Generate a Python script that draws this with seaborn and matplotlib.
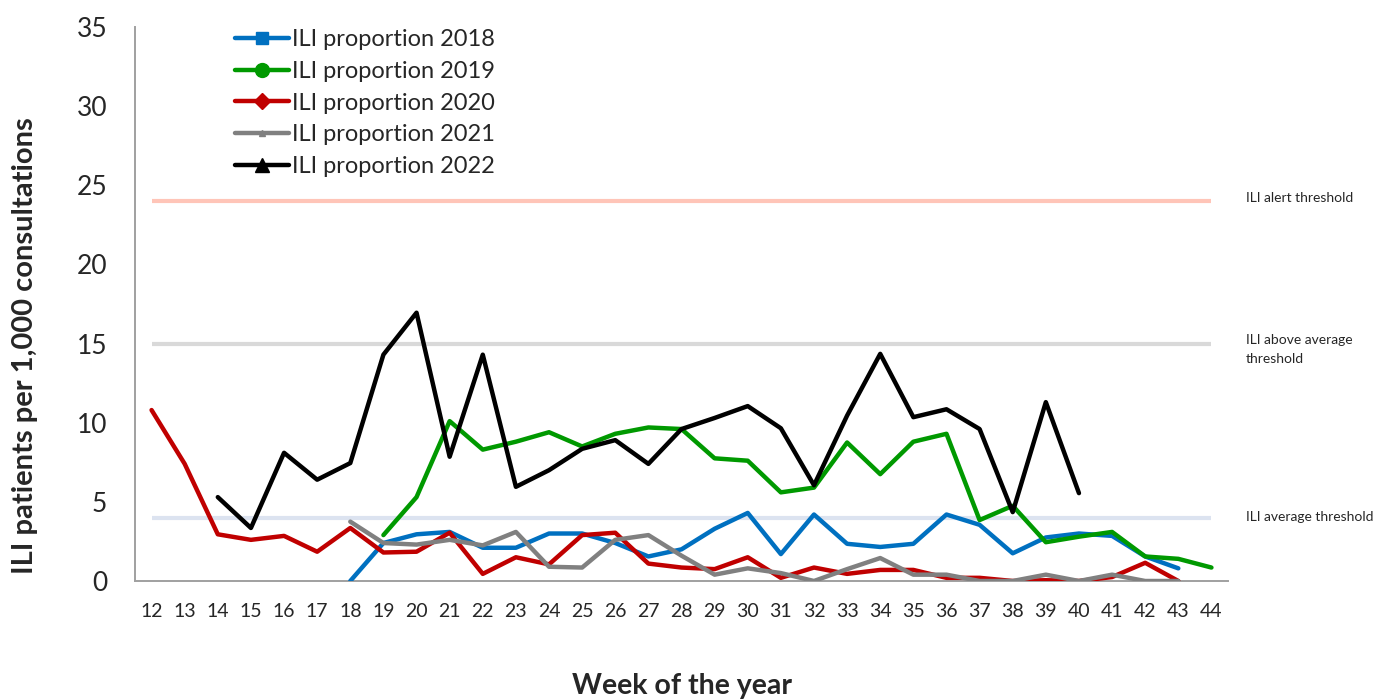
import numpy as np
import pandas as pd
import matplotlib
matplotlib.use('Agg')
import matplotlib.pyplot as plt
from matplotlib.lines import Line2D
import seaborn as sns

# Weeks shown on the x axis
weeks = list(range(12, 45))

# ILI proportion per year (first week of each series given separately)
start_2018 = 18
ili_2018 = [0.0, 2.4, 2.95, 3.1, 2.1, 2.1, 3.0, 3.0, 2.4, 1.55, 2.0, 3.3, 4.3, 1.7,
            4.2, 2.35, 2.15, 2.35, 4.2, 3.55, 1.75, 2.75, 3.0, 2.85, 1.55, 0.8]
start_2019 = 19
ili_2019 = [2.9, 5.3, 10.1, 8.3, 8.8, 9.4, 8.5, 9.3, 9.7, 9.6, 7.75, 7.6, 5.6, 5.9,
            8.75, 6.75, 8.8, 9.3, 3.85, 4.75, 2.45, 2.8, 3.1, 1.55, 1.4, 0.85]
start_2020 = 12
ili_2020 = [10.8, 7.4, 2.95, 2.6, 2.85, 1.85, 3.35, 1.8, 1.85, 3.05, 0.45, 1.5,
            1.05, 2.9, 3.05, 1.1, 0.85, 0.75, 1.5, 0.2, 0.85, 0.45, 0.7, 0.7,
            0.2, 0.2, 0.0, 0.05, 0.0, 0.25, 1.15, 0.0]
start_2021 = 18
ili_2021 = [3.75, 2.4, 2.3, 2.6, 2.25, 3.1, 0.9, 0.85, 2.6, 2.9, 1.6, 0.4, 0.8,
            0.5, 0.0, 0.75, 1.45, 0.4, 0.4, 0.0, 0.0, 0.4, 0.0, 0.4, 0.0, 0.0]
start_2022 = 14
ili_2022 = [5.3, 3.35, 8.1, 6.4, 7.45, 14.3, 16.95, 7.85, 14.3, 5.95, 7.0, 8.35,
            8.9, 7.4, 9.6, 10.3, 11.05, 9.65, 6.05, 10.45, 14.35, 10.35, 10.85,
            9.6, 4.35, 11.3, 5.55]

series_names = ['ILI proportion 2018', 'ILI proportion 2019', 'ILI proportion 2020',
                'ILI proportion 2021', 'ILI proportion 2022']
series_starts = [start_2018, start_2019, start_2020, start_2021, start_2022]
series_values = [ili_2018, ili_2019, ili_2020, ili_2021, ili_2022]
colors = ['#0070C0', '#009900', '#C00000', '#808080', '#000000']
markers = ['s', 'o', 'D', '^', '^']
marker_sizes = [8, 10, 8, 5, 10]

# Threshold lines
threshold_values = [24, 15, 4]
threshold_labels = ['ILI alert threshold', 'ILI above average\nthreshold',
                    'ILI average threshold']
threshold_colors = ['#FFC5B8', '#D9D9D9', '#DCE3F0']
label_nudge = [2, 7, 0.5]  # vertical offset of the right-hand labels, points

rows = []
for name, start, vals in zip(series_names, series_starts, series_values):
    for i, v in enumerate(vals):
        rows.append({'week': start + i, 'value': v, 'series': name})
df = pd.DataFrame(rows)

sns.set_style('white')
plt.rcParams['font.family'] = ['Lato', 'DejaVu Sans']

fig = plt.figure(figsize=(13.99, 6.99), dpi=100)
ax = fig.add_axes([135 / 1399, 1 - 581 / 699, (1228 - 135) / 1399, (581 - 27) / 699])

# thresholds behind the data
for val, col in zip(threshold_values, threshold_colors):
    ax.hlines(val, weeks[0], weeks[-1], color=col, lw=3, zorder=1)

sns.lineplot(data=df, x='week', y='value', hue='series', hue_order=series_names,
             palette=colors, linewidth=3.2, ax=ax, legend=False, zorder=3,
             estimator=None, sort=True)

ax.set_xlim(weeks[0] - 0.5, weeks[-1] + 0.5)
ax.set_ylim(0, 35)
ax.set_yticks(range(0, 36, 5))
ax.set_xticks(weeks)
ax.set_xticklabels([str(w) for w in weeks], fontsize=14)
ax.set_xticks(np.arange(weeks[0] - 0.5, weeks[-1] + 1, 1), minor=True)
ax.tick_params(axis='x', which='major', length=0, pad=16)
ax.tick_params(axis='x', which='minor', length=6, color='#A0A0A0', width=1.2,
               direction='out')
ax.tick_params(axis='y', length=8, color='#A0A0A0', width=1.2, direction='out',
               labelsize=19, pad=12)

for side in ['top', 'right']:
    ax.spines[side].set_visible(False)
for side in ['left', 'bottom']:
    ax.spines[side].set_color('#A0A0A0')
    ax.spines[side].set_linewidth(1.4)

ax.set_xlabel('Week of the year', fontsize=20.5, fontweight='bold', labelpad=38)
ax.set_ylabel('ILI patients per 1,000 consultations', fontsize=21,
              fontweight='bold')
ax.yaxis.set_label_coords(-0.0885, 0.424)

# threshold labels on the right
for val, lab, dy in zip(threshold_values, threshold_labels, label_nudge):
    nlines = lab.count('\n') + 1
    ax.annotate(lab, xy=(weeks[-1] + 1.55, val), xycoords='data',
                xytext=(-12, dy), textcoords='offset points',
                fontsize=10, va='center' if nlines == 1 else 'top', ha='left',
                linespacing=1.7, annotation_clip=False)

handles = [Line2D([0], [0], color=c, lw=3.2, marker=m, markersize=ms)
           for c, m, ms in zip(colors, markers, marker_sizes)]
fig.legend(handles, series_names, loc='upper left',
           bbox_to_anchor=(226 / 1399, 1 - 20 / 699), frameon=False, fontsize=17,
           handlelength=2.25, handletextpad=0.15, labelspacing=0.45, borderaxespad=0)

fig.savefig('out.png', dpi=100)
